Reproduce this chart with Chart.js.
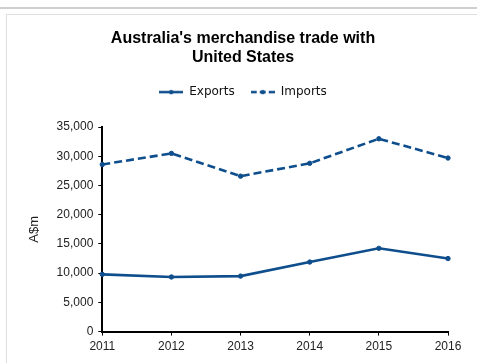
<!DOCTYPE html>
<html>
<head>
<meta charset="utf-8">
<title>Australia's merchandise trade with United States</title>
<script src="https://cdn.jsdelivr.net/npm/chart.js@4"></script>
<style>
  html, body { margin: 0; padding: 0; background: #fff; }
  #wrap { position: relative; width: 477px; height: 363px; overflow: hidden; }
  .topbar { position: absolute; left: 0; top: 7px; width: 477px; height: 2px; background: #cfcfcf; }
  .panel { position: absolute; left: 6px; top: 14px; width: 480px; height: 360px;
           border-top: 1px solid #dedede; border-left: 1px solid #dedede; }
  canvas { position: absolute; left: 0; top: 0; }
</style>
</head>
<body>
<div id="wrap">
  <div class="topbar"></div>
  <div class="panel"></div>
  <canvas id="tradeChart" width="477" height="363"></canvas>
</div>
<script>
// financial years and values (A$m)
const years = ['2011', '2012', '2013', '2014', '2015', '2016'];
const exportsData = [9800, 9350, 9500, 11900, 14250, 12500];
const importsData = [28600, 30500, 26600, 28800, 33000, 29700];
const titleLines = ["Australia's merchandise trade with", 'United States'];

const blue = '#0f4e8c';

// little line + dot swatch for the legend
function swatch(dashed) {
  const c = document.createElement('canvas');
  c.width = 24; c.height = 8;
  const g = c.getContext('2d');
  g.strokeStyle = blue;
  g.lineWidth = 2.5;
  if (dashed) g.setLineDash([6, 3]);
  g.beginPath();
  g.moveTo(0, 4);
  g.lineTo(24, 4);
  g.stroke();
  g.fillStyle = blue;
  g.beginPath();
  g.arc(12, 4, 2.2, 0, Math.PI * 2);
  g.fill();
  return c;
}
const swatches = [swatch(false), swatch(true)];

new Chart(document.getElementById('tradeChart'), {
  type: 'line',
  data: {
    labels: years,
    datasets: [{
      label: 'Exports',
      data: exportsData,
      borderColor: blue,
      backgroundColor: blue,
      borderWidth: 2.6,
      pointRadius: 2.2,
      pointBorderWidth: 1,
      tension: 0
    }, {
      label: 'Imports',
      data: importsData,
      borderColor: blue,
      backgroundColor: blue,
      borderWidth: 2.6,
      borderDash: [8, 4],
      pointRadius: 2.2,
      pointBorderWidth: 1,
      tension: 0
    }]
  },
  options: {
    responsive: false,
    animation: false,
    layout: { padding: { left: 38, right: 29, top: 0, bottom: 5 } },
    plugins: {
      title: {
        display: true,
        text: titleLines,
        color: '#000',
        font: { family: 'Liberation Sans', size: 16, weight: 'bold', lineHeight: 1.19 },
        padding: { top: 29, bottom: 3 }
      },
      // empty spacer between the legend and the plot
      subtitle: {
        display: true,
        text: '',
        weight: 500,
        font: { size: 19, lineHeight: 1 },
        padding: 0
      },
      legend: {
        labels: {
          color: '#111',
          font: { family: 'DejaVu Sans', size: 12 },
          usePointStyle: true,
          pointStyleWidth: 24,
          padding: 16,
          generateLabels(chart) {
            return Chart.defaults.plugins.legend.labels.generateLabels(chart).map((l, i) => {
              l.pointStyle = swatches[i];
              return l;
            });
          }
        }
      },
      tooltip: { enabled: false }
    },
    scales: {
      x: {
        offset: false,
        grid: { drawOnChartArea: false, drawTicks: true, tickLength: 4, color: '#000' },
        border: { color: '#000', width: 2 },
        ticks: { color: '#222', font: { family: 'Liberation Sans', size: 12 }, padding: 4, maxRotation: 0 }
      },
      y: {
        min: 0,
        max: 35000,
        grid: { drawOnChartArea: false, drawTicks: true, tickLength: 4, color: '#000' },
        border: { color: '#000', width: 2 },
        ticks: { stepSize: 5000, color: '#222', font: { family: 'Liberation Sans', size: 12 }, padding: 5 },
        title: { display: true, text: 'A$m', color: '#222', font: { family: 'Liberation Sans', size: 13 }, padding: { top: -11, bottom: 9 } }
      }
    }
  }
});
</script>
</body>
</html>
